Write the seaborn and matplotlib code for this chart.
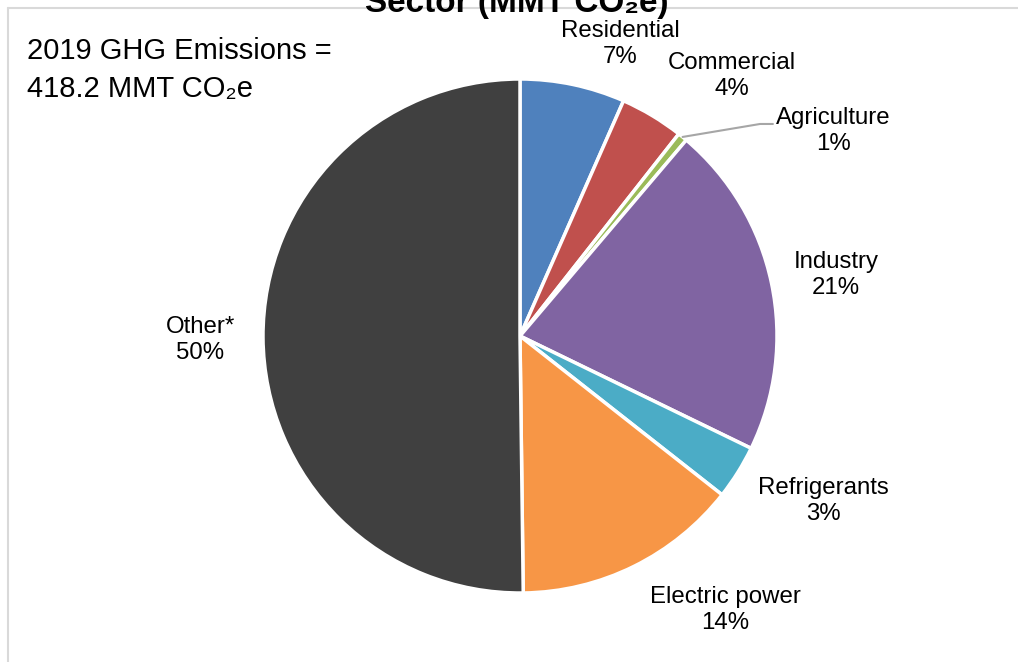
import matplotlib
matplotlib.use("Agg")
import matplotlib.pyplot as plt
import seaborn as sns
import numpy as np
from matplotlib.lines import Line2D

# ---- data ----
categories = ["Residential", "Commercial", "Agriculture", "Industry",
              "Refrigerants", "Electric power", "Other*"]
shares = [6.6, 4.0, 0.6, 21.0, 3.4, 14.2, 50.2]          # percent of total
pct_labels = ["7%", "4%", "1%", "21%", "3%", "14%", "50%"]
colors = ["#4F81BD", "#C0504D", "#9BBB59", "#8064A2",
          "#4BACC6", "#F79646", "#404040"]
total_text = "2019 GHG Emissions =\n418.2 MMT CO\u2082e"
title_text = "Sector (MMT CO\u2082e)"

# label anchor positions, in pie-radius units relative to pie centre
label_pos = {
    "Residential": (0.389, 1.136),
    "Commercial": (0.825, 1.012),
    "Agriculture": (1.218, 0.798),
    "Industry": (1.230, 0.237),
    "Refrigerants": (1.179, -0.642),
    "Electric power": (0.798, -1.066),
    "Other*": (-1.245, -0.016),
}

sns.set_theme(style="white")
plt.rcParams["font.family"] = ["Liberation Sans", "DejaVu Sans"]

W, H = 1018, 662
fig = plt.figure(figsize=(W / 100, H / 100), dpi=100)
fig.patch.set_facecolor("white")
ax = fig.add_axes([0, 0, 1, 1])

cx, cy, R = 520, 336, 257  # pixel centre and radius
wedges, _ = ax.pie(shares, colors=colors, startangle=90, counterclock=False,
                   radius=1.0, center=(0, 0),
                   wedgeprops=dict(edgecolor="white", linewidth=2.5))
ax.set_aspect("auto")
ax.set_xlim(-cx / R, (W - cx) / R)
ax.set_ylim(-(H - cy) / R, cy / R)
ax.axis("off")

for cat, pct in zip(categories, pct_labels):
    x, y = label_pos[cat]
    ax.text(x, y, f"{cat}\n{pct}", ha="center", va="center", fontsize=17.3,
            color="#000000", linespacing=1.24)

# leader line for Agriculture
w = wedges[categories.index("Agriculture")]
mid = np.deg2rad((w.theta1 + w.theta2) / 2)
sx, sy = np.cos(mid) * 1.0, np.sin(mid) * 1.0
ax.add_line(Line2D([sx, 0.934, 0.984], [sy, 0.825, 0.825],
                   color="#A6A6A6", linewidth=1.5))

# total box text
fig.text(27 / W, 1 - 70 / H, total_text, ha="left", va="center",
         fontsize=21, linespacing=1.45, color="#000000")

# chart-area border (partially cropped)
fig.add_artist(Line2D([8 / W, 1], [1 - 8 / H, 1 - 8 / H], color="#D9D9D9",
                      linewidth=1.5, transform=fig.transFigure))
fig.add_artist(Line2D([8 / W, 8 / W], [0, 1 - 8 / H], color="#D9D9D9",
                      linewidth=1.5, transform=fig.transFigure))

# cropped title
fig.text(517 / W, 1 - 12 / H, title_text, ha="center", va="baseline",
         fontsize=24, fontweight="bold", color="#000000", zorder=5)

fig.savefig("out.png", dpi=100, facecolor="white")
